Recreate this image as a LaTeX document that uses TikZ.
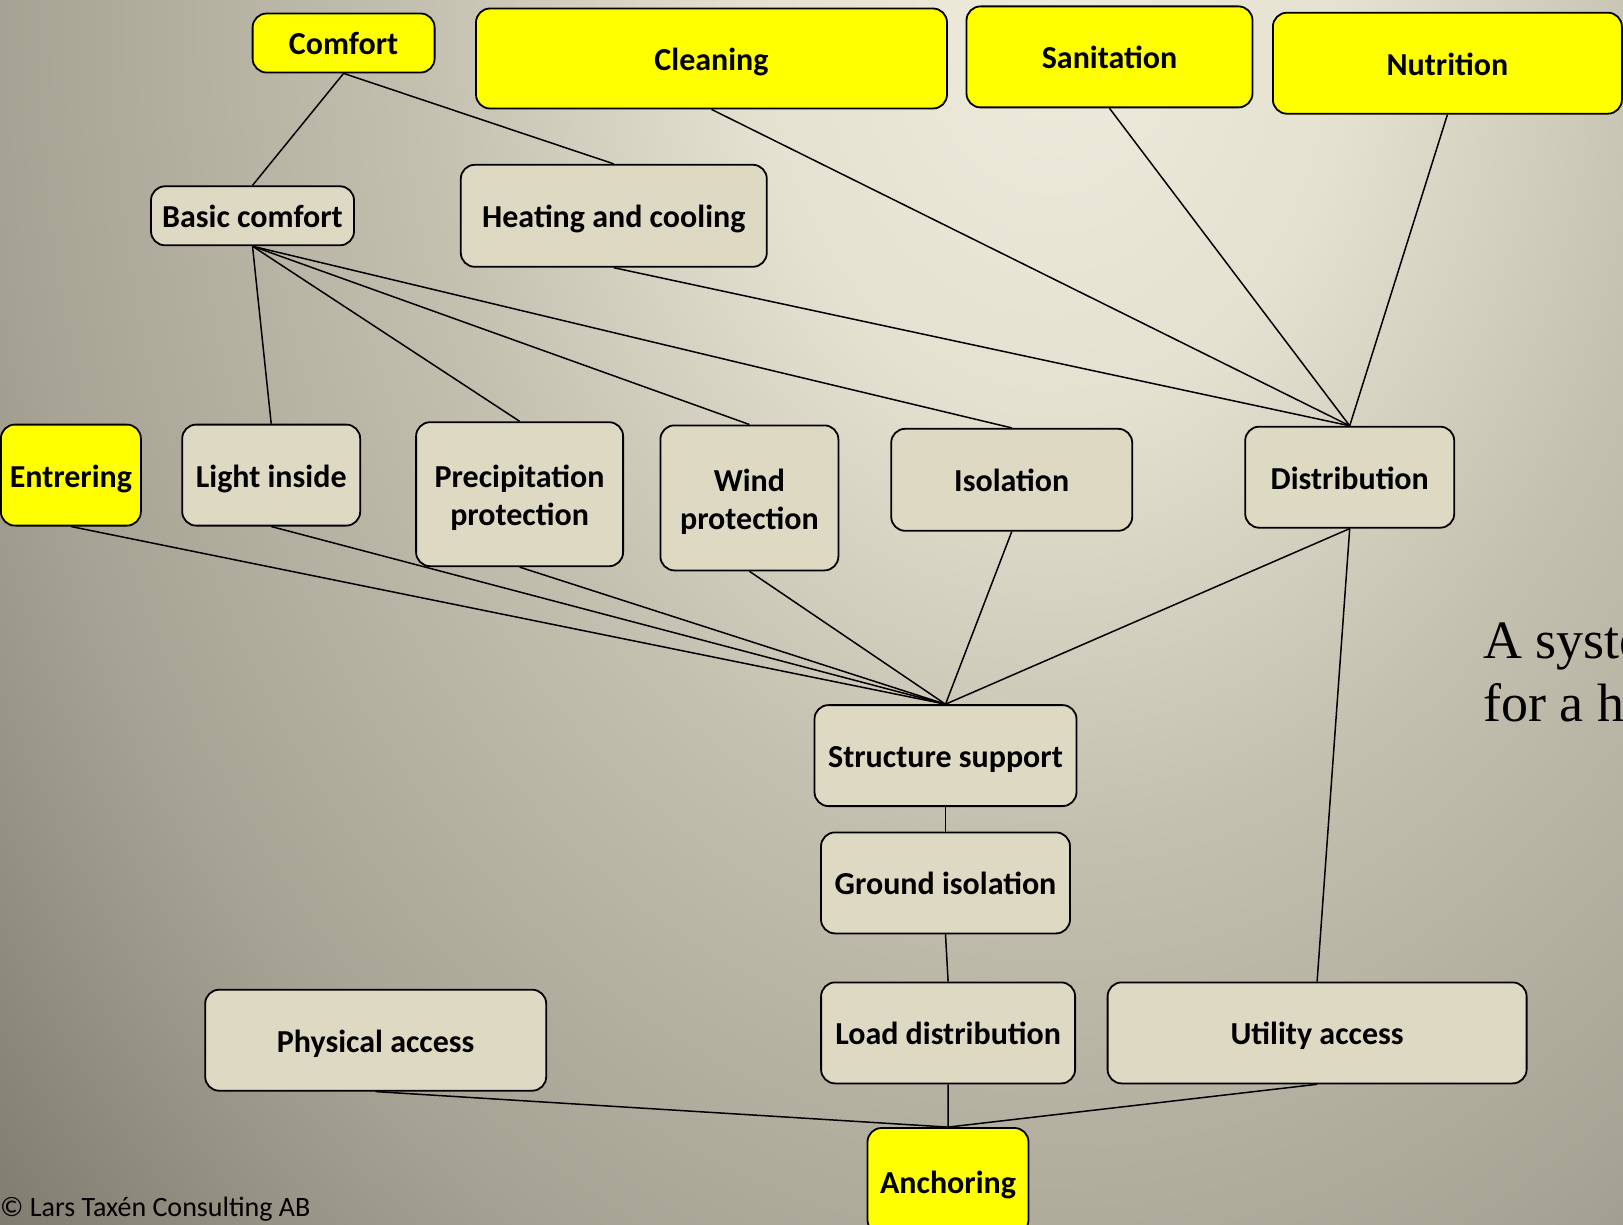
\documentclass[tikz,border=0pt]{standalone}
\usepackage{fontspec}
\setmainfont{Carlito}
\newfontfamily\titleface{Liberation Serif}

% backdrop colours, light at the top, darker towards the lower left
\definecolor{bgA}{HTML}{EFEBDC}
\definecolor{bgB}{HTML}{E5E1D1}
\definecolor{bgC}{HTML}{C4C0B0}
\definecolor{bgD}{HTML}{A7A394}
\definecolor{bgE}{HTML}{807D70}
\definecolor{bgF}{HTML}{7A776A}
\definecolor{tanbox}{HTML}{DDD9C3}
\definecolor{goalbox}{HTML}{FFFF00}

% the path's bounding box is fitted to the inner 50bp square of the shading
\pgfdeclareradialshading{backdrop}{\pgfpointorigin}{%
  color(0bp)=(bgA); color(5bp)=(bgB); color(10.5bp)=(bgC);
  color(17.5bp)=(bgD); color(23.35bp)=(bgE); color(25bp)=(bgF);
  color(50bp)=(bgF)}

% two centred lines, baseline on the first one
\newcommand\twolines[2]{\begin{tabular}[t]{@{}c@{}}#1\\#2\end{tabular}}

\begin{document}
\begin{tikzpicture}[x=1pt,y=-1pt,
  part/.style={draw=black, line width=1.8pt, rounded corners=14pt,
    fill=tanbox, inner sep=0pt, text height=27pt, text depth=3pt,
    font=\fontsize{32}{38}\selectfont\bfseries},
  goal/.style={part, fill=goalbox},
  double/.style={text depth=40.2pt},
  link/.style={line width=1.5pt, black}]

\useasboundingbox (0,0) rectangle (1623,1225);
\clip (0,0) rectangle (1623,1225);
\fill[shading=backdrop] (1050,20) ellipse [x radius=1500pt, y radius=1950pt];

% top row: goals
\node[goal, minimum width=182pt, minimum height=59pt] (comfort) at (343.6,43) {Comfort};
\node[goal, minimum width=471pt, minimum height=100pt] (cleaning) at (711.5,58.5) {Cleaning};
\node[goal, minimum width=286pt, minimum height=101pt] (sanitation) at (1109.5,56.9) {Sanitation};
\node[goal, minimum width=349pt, minimum height=101pt] (nutrition) at (1447.4,63.2) {Nutrition};

% second row
\node[part, minimum width=203pt, minimum height=59pt] (basic) at (252.5,215.8) {Basic comfort};
\node[part, minimum width=306pt, minimum height=102pt] (heating) at (613.8,215.8) {Heating and cooling};

% third row
\node[goal, minimum width=140pt, minimum height=101pt] (entrering) at (70.9,475.1) {Entrering};
\node[part, minimum width=178pt, minimum height=101pt] (light) at (271.2,475.1) {Light inside};
\node[part, double, minimum width=207pt, minimum height=144pt] (precip) at (519.6,494.2) {\twolines{Precipitation}{protection}};
\node[part, double, minimum width=178pt, minimum height=145pt] (wind) at (749.4,497.9) {\twolines{Wind}{protection}};
\node[part, minimum width=241pt, minimum height=102pt] (isolation) at (1011.7,479.8) {Isolation};
\node[part, minimum width=209pt, minimum height=101pt] (distribution) at (1349.7,477.2) {Distribution};

% foundation column
\node[part, minimum width=262pt, minimum height=101pt] (structure) at (945.5,755.6) {Structure support};
\node[part, minimum width=249pt, minimum height=101pt] (ground) at (945.5,882.9) {Ground isolation};
\node[part, minimum width=254pt, minimum height=101pt] (load) at (948.1,1032.9) {Load distribution};
\node[part, minimum width=419pt, minimum height=101pt] (utility) at (1317.1,1032.9) {Utility access};
\node[part, minimum width=341pt, minimum height=101pt] (physical) at (375.7,1040.2) {Physical access};
\node[goal, minimum width=161pt, minimum height=106pt] (anchoring) at (948,1181) {Anchoring};

% side texts
\node[anchor=base west, inner sep=0pt, font=\titleface\fontsize{54}{65}\selectfont] (title1) at (1483,658) {A syste};
\node[anchor=base west, inner sep=0pt, font=\titleface\fontsize{54}{65}\selectfont] (title2) at (1483,721) {for a h};
\node[anchor=base west, inner sep=0pt, font=\fontsize{28}{34}\selectfont] (copyright) at (0,1216) {© Lars Taxén Consulting AB};

% connectors
\draw[link] (comfort.south) -- (basic.north);
\draw[link] (comfort.south) -- (heating.north);
\draw[link] (cleaning.south) -- (distribution.north);
\draw[link] (sanitation.south) -- (distribution.north);
\draw[link] (nutrition.south) -- (distribution.north);
\draw[link] (heating.south) -- (distribution.north);
\draw[link] (basic.south) -- (light.north);
\draw[link] (basic.south) -- (precip.north);
\draw[link] (basic.south) -- (wind.north);
\draw[link] (basic.south) -- (isolation.north);
\draw[link] (entrering.south) -- (structure.north);
\draw[link] (light.south) -- (structure.north);
\draw[link] (precip.south) -- (structure.north);
\draw[link] (wind.south) -- (structure.north);
\draw[link] (isolation.south) -- (structure.north);
\draw[link] (distribution.south) -- (structure.north);
\draw[link] (distribution.south) -- (utility.north);
\draw[link] (structure.south) -- (ground.north);
\draw[link] (ground.south) -- (load.north);
\draw[link] (load.south) -- (anchoring.north);
\draw[link] (physical.south) -- (anchoring.north);
\draw[link] (utility.south) -- (anchoring.north);
\end{tikzpicture}
\end{document}
